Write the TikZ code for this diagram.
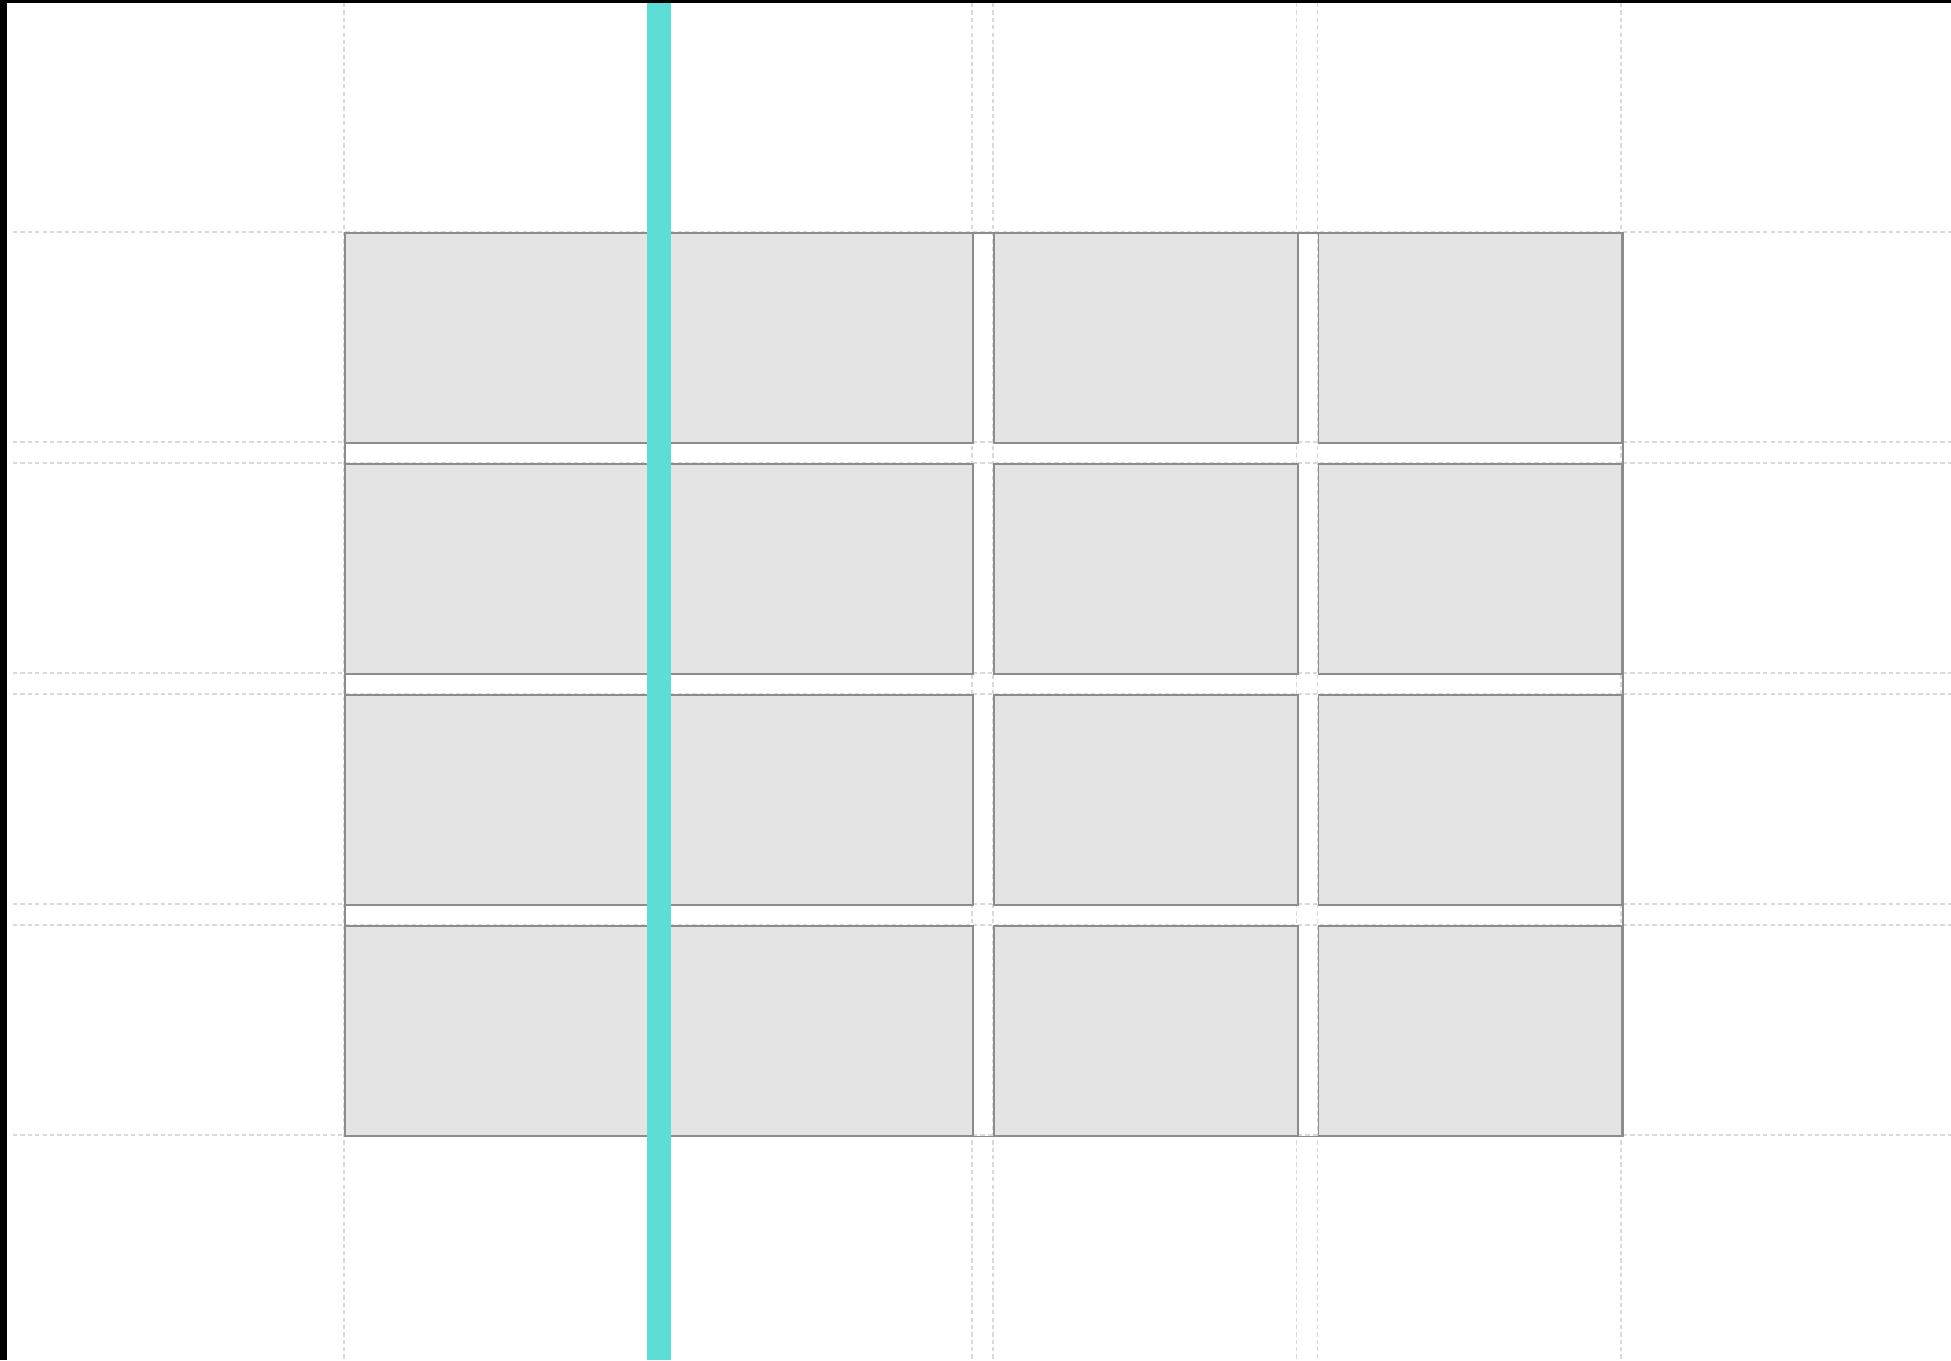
\documentclass[tikz,border=0pt]{standalone}
\usepackage{tikz}
\usetikzlibrary{positioning}
\definecolor{cellgray}{HTML}{E4E4E4}
\definecolor{edgegray}{HTML}{8C8C8C}
\definecolor{guidegray}{HTML}{D9D9D9}
\definecolor{trackcyan}{HTML}{5EDCD6}
\tikzset{
  gridcell/.style={draw=edgegray, line width=0.55pt, fill=cellgray, inner sep=0pt,
    minimum width=3.035cm, minimum height=2.1cm, anchor=north west},
  gridframe/.style={draw=edgegray, line width=0.55pt, inner sep=0pt,
    minimum width=12.77cm, minimum height=9.03cm, anchor=north west},
  gridguide/.style={draw=guidegray, line width=0.45pt, dash pattern=on 1.2pt off 0.9pt},
  trackline/.style={draw=trackcyan, line width=0.24cm},
}

\begin{document}
\begin{tikzpicture}[x=0.01cm, y=-0.01cm]
  \useasboundingbox (0,0) rectangle (1951,1360);
  % guide lines at every track edge
  \foreach \c in {0,...,3} {
    \pgfmathsetmacro\xl{344+324.5*\c}
    \pgfmathsetmacro\xr{\xl+303.5}
    \draw[gridguide] (\xl,3) -- (\xl,1360);
    \draw[gridguide] (\xr,3) -- (\xr,1360);
  }
  \foreach \r in {0,...,3} {
    \pgfmathsetmacro\yt{232+231*\r}
    \pgfmathsetmacro\yb{\yt+210}
    \draw[gridguide] (13,\yt) -- (1951,\yt);
    \draw[gridguide] (13,\yb) -- (1951,\yb);
  }
  \node[gridframe] (frame) at (344,232) {};
  \foreach \r in {0,...,3}
    \foreach \c in {0,...,3}
      \node[gridcell] (cell-\r-\c) at ({344+324.5*\c},{232+231*\r}) {};
  % highlighted column gap
  \coordinate (tracktop) at (659,3);
  \coordinate (trackbot) at (659,1360);
  \draw[trackline] (tracktop) -- (trackbot);
  \fill[black] (0,0) rectangle (7,1360);
  \fill[black] (0,0) rectangle (1951,3);
\end{tikzpicture}
\end{document}
